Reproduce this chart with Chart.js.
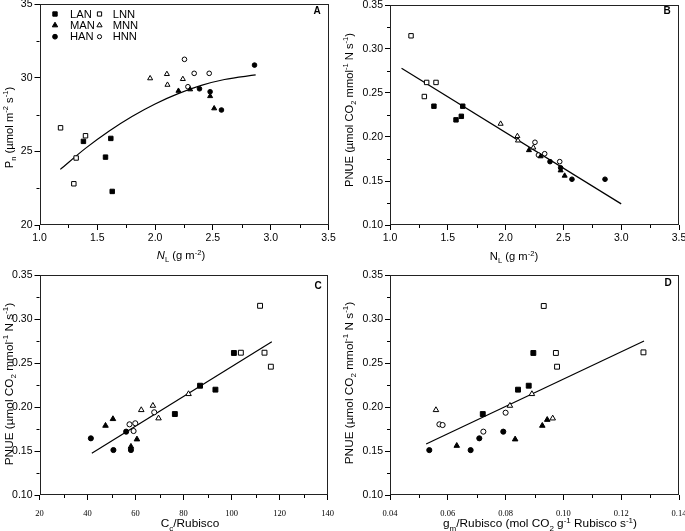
<!DOCTYPE html>
<html>
<head>
<meta charset="utf-8">
<script src="https://cdn.jsdelivr.net/npm/chart.js@4"></script>
<style>
  html, body { margin: 0; padding: 0; background: #fff; }
  canvas.p { position: absolute; left: 0; top: 0; width: 685px; height: 531px; }
</style>
</head>
<body>
<canvas id="cA" class="p" width="685" height="531"></canvas>
<canvas id="cB" class="p" width="685" height="531"></canvas>
<canvas id="cC" class="p" width="685" height="531"></canvas>
<canvas id="cD" class="p" width="685" height="531"></canvas>
<script>
// --- Data (group order follows `groups`) ---
const groups = ['LAN', 'LNN', 'MAN', 'MNN', 'HAN', 'HNN'];

// Panel A: N_L vs Pn
const nlA = [
    [1.380, 1.617, 1.571, 1.629],
    [1.182, 1.317, 1.398, 1.297],
    [2.202, 2.303, 2.476, 2.511],
    [1.957, 2.102, 2.107, 2.240],
    [2.384, 2.476, 2.574, 2.860],
    [2.254, 2.338, 2.468, 2.284]
];
const pnA = [
    [25.68, 25.88, 24.61, 22.28],
    [26.60, 24.55, 26.06, 22.80],
    [29.11, 29.21, 28.75, 27.92],
    [29.96, 30.25, 29.52, 29.91],
    [29.25, 29.05, 27.81, 30.86],
    [31.25, 30.30, 30.30, 29.39]
];
const fitAx = [1.18, 1.4, 1.6, 1.8, 2.0, 2.2, 2.4, 2.6, 2.87];
const fitAy = [23.78, 25.22, 26.37, 27.37, 28.22, 28.92, 29.48, 29.88, 30.19];

// Panel B: N_L vs PNUE
const nlB = [
    [1.380, 1.617, 1.571, 1.629],
    [1.182, 1.317, 1.398, 1.297],
    [2.202, 2.303, 2.476, 2.511],
    [1.957, 2.102, 2.107, 2.240],
    [2.384, 2.476, 2.574, 2.860],
    [2.254, 2.338, 2.468, 2.284]
];
const pnueB = [
    [0.235, 0.2235, 0.2195, 0.235],
    [0.315, 0.262, 0.262, 0.246],
    [0.185, 0.178, 0.162, 0.156],
    [0.215, 0.201, 0.196, 0.188],
    [0.172, 0.165, 0.152, 0.152],
    [0.194, 0.181, 0.172, 0.1795]
];
const fitBx = [1.1, 3.0];
const fitBy = [0.278, 0.124];

// Panel C: Cc/Rubisco vs PNUE
const ccC = [
    [101.0, 86.9, 93.3, 76.4],
    [111.9, 103.9, 113.75, 116.4],
    [50.6, 47.5, 60.6, 58.1],
    [82.1, 67.25, 62.4, 69.6],
    [41.4, 56.1, 50.8, 58.1],
    [67.8, 57.5, 59.9, 59.2]
];
const pnueC = [
    [0.2614, 0.2242, 0.2197, 0.192],
    [0.315, 0.2617, 0.2617, 0.2458],
    [0.1864, 0.1788, 0.1633, 0.155],
    [0.2148, 0.2015, 0.1966, 0.1872],
    [0.1644, 0.172, 0.1511, 0.1511],
    [0.194, 0.1803, 0.1815, 0.1727]
];
const fitCx = [41.8, 116.8];
const fitCy = [0.1474, 0.2742];

// Panel D: gm/Rubisco vs PNUE
const gmD = [
    [0.0896, 0.0880, 0.0843, 0.0721],
    [0.0932, 0.0974, 0.0978, 0.1277],
    [0.0631, 0.0833, 0.0927, 0.0944],
    [0.0559, 0.0815, 0.0891, 0.0963],
    [0.0536, 0.0679, 0.0709, 0.0792],
    [0.0571, 0.0582, 0.0800, 0.0723]
];
const pnueD = [
    [0.2614, 0.2242, 0.2197, 0.192],
    [0.3148, 0.2614, 0.2458, 0.2621],
    [0.156, 0.1633, 0.1788, 0.1855],
    [0.1966, 0.2015, 0.2148, 0.1871],
    [0.151, 0.151, 0.1644, 0.172],
    [0.1803, 0.1795, 0.1935, 0.172]
];
const fitDx = [0.0525, 0.1279];
const fitDy = [0.158, 0.275];

// --- Ticks ---
const nlTicks = [1.0, 1.5, 2.0, 2.5, 3.0, 3.5];
const nlLabels = ['1.0', '1.5', '2.0', '2.5', '3.0', '3.5'];
const pnTicks = [20, 25, 30, 35];
const pnLabels = ['20', '25', '30', '35'];
const pnueTicks = [0.10, 0.15, 0.20, 0.25, 0.30, 0.35];
const pnueLabels = ['0.10', '0.15', '0.20', '0.25', '0.30', '0.35'];
const ccTicks = [20, 40, 60, 80, 100, 120, 140];
const ccLabels = ['20', '40', '60', '80', '100', '120', '140'];
const gmTicks = [0.04, 0.06, 0.08, 0.10, 0.12, 0.14];
const gmLabels = ['0.04', '0.06', '0.08', '0.10', '0.12', '0.14'];

// --- Styles ---
const SANS = "'Liberation Sans', Arial, sans-serif";
const SERIF = "'Liberation Serif', 'Times New Roman', serif";
const markStyle = ['rect', 'rect', 'triangle', 'triangle', 'circle', 'circle'];
const markFilled = [true, false, true, false, true, false];

const pnueTitle = [['PNUE (\u00b5mol CO', 'n'], ['2', 'sub'], [' mmol', 'n'], ['-1', 'sup'], [' N s', 'n'], ['-1', 'sup'], [')', 'n']];

function drawRich(ctx, parts, cx, cy, size, vertical) {
    const fontOf = p => (p[1] === 'it' ? 'italic ' : '') +
        ((p[1] === 'sub' || p[1] === 'sup') ? size * 0.68 : size) + 'px ' + SANS;
    ctx.save();
    ctx.translate(cx, cy);
    if (vertical) ctx.rotate(-Math.PI / 2);
    let w = 0;
    parts.forEach(p => { ctx.font = fontOf(p); w += ctx.measureText(p[0]).width; });
    let x = -w / 2;
    const base = size * 0.36;
    ctx.fillStyle = '#000';
    ctx.textAlign = 'left';
    ctx.textBaseline = 'alphabetic';
    parts.forEach(p => {
        ctx.font = fontOf(p);
        const dy = p[1] === 'sub' ? size * 0.28 : (p[1] === 'sup' ? -size * 0.4 : 0);
        ctx.fillText(p[0], x, base + dy);
        x += ctx.measureText(p[0]).width;
    });
    ctx.restore();
}

function mark(ctx, style, filled, x, y, r) {
    ctx.beginPath();
    if (style === 'rect') {
        const s = r * Math.SQRT1_2;
        ctx.rect(x - s, y - s, 2 * s, 2 * s);
    } else if (style === 'triangle') {
        ctx.moveTo(x, y - r);
        ctx.lineTo(x + 0.866 * r, y + 0.5 * r);
        ctx.lineTo(x - 0.866 * r, y + 0.5 * r);
        ctx.closePath();
    } else {
        ctx.arc(x, y, r, 0, Math.PI * 2);
    }
    ctx.fillStyle = filled ? '#000' : '#fff';
    ctx.fill();
    ctx.lineWidth = 1;
    ctx.strokeStyle = '#000';
    ctx.stroke();
}

function makeDecor(cfg) {
    return {
        id: 'decor',
        afterDraw(chart) {
            const { ctx, chartArea: a, scales } = chart;
            ctx.save();
            // frame
            ctx.strokeStyle = '#222';
            ctx.lineWidth = 1;
            ctx.strokeRect(Math.round(a.left) + 0.5, Math.round(a.top) + 0.5,
                Math.round(a.right - a.left) - 1, Math.round(a.bottom - a.top) - 1);
            // minor ticks halfway between major ticks
            ctx.strokeStyle = '#000';
            ctx.beginPath();
            for (let i = 0; i < cfg.xTicks.length - 1; i++) {
                const px = Math.round(scales.x.getPixelForValue((cfg.xTicks[i] + cfg.xTicks[i + 1]) / 2)) + 0.5;
                ctx.moveTo(px, a.bottom);
                ctx.lineTo(px, a.bottom + 3);
            }
            for (let i = 0; i < cfg.yTicks.length - 1; i++) {
                const py = Math.round(scales.y.getPixelForValue((cfg.yTicks[i] + cfg.yTicks[i + 1]) / 2)) + 0.5;
                ctx.moveTo(a.left, py);
                ctx.lineTo(a.left - 3, py);
            }
            ctx.stroke();
            // panel letter
            ctx.fillStyle = '#000';
            ctx.font = 'bold 10px ' + SANS;
            ctx.textAlign = 'center';
            ctx.textBaseline = 'middle';
            ctx.fillText(cfg.letter[0], cfg.letter[1], cfg.letter[2]);
            // axis titles
            drawRich(ctx, cfg.xTitle[0], cfg.xTitle[1], cfg.xTitle[2], cfg.titleSize, false);
            drawRich(ctx, cfg.yTitle[0], cfg.yTitle[1], cfg.yTitle[2], cfg.titleSize, true);
            // legend
            if (cfg.legend) {
                const rows = [14, 25.3, 36.7];
                ctx.font = '11.2px ' + SANS;
                ctx.textAlign = 'left';
                ctx.textBaseline = 'middle';
                for (let r = 0; r < 3; r++) {
                    const gA = r * 2, gN = r * 2 + 1;
                    mark(ctx, markStyle[gA], true, 55, rows[r], markStyle[gA] === 'circle' ? 2.4 : 3.1);
                    ctx.fillStyle = '#000';
                    ctx.fillText(groups[gA], 70, rows[r] + 0.5);
                    mark(ctx, markStyle[gN], false, 99.5, rows[r], markStyle[gN] === 'circle' ? 2.1 : 3.0);
                    ctx.fillStyle = '#000';
                    ctx.fillText(groups[gN], 112.7, rows[r] + 0.5);
                }
            }
            ctx.restore();
        }
    };
}

function makeChart(id, cfg) {
    const datasets = groups.map((g, i) => ({
        label: g,
        data: cfg.xs[i].map((x, j) => ({ x: x, y: cfg.ys[i][j] })),
        pointStyle: markStyle[i],
        pointRadius: markStyle[i] === 'circle' ? cfg.r * 0.8 : (markStyle[i] === 'rect' ? cfg.r * 1.08 : cfg.r),
        pointHoverRadius: 3,
        backgroundColor: markFilled[i] ? '#000' : '#fff',
        borderColor: '#000',
        borderWidth: 1,
        showLine: false
    }));
    datasets.push({
        type: 'line',
        label: 'fit',
        data: cfg.fitX.map((x, j) => ({ x: x, y: cfg.fitY[j] })),
        borderColor: '#000',
        borderWidth: 1.2,
        pointRadius: 0,
        fill: false,
        cubicInterpolationMode: cfg.curve ? 'monotone' : 'default',
        tension: cfg.curve ? 0.4 : 0
    });

    const area = cfg.area;
    new Chart(document.getElementById(id), {
        type: 'scatter',
        data: { datasets: datasets },
        options: {
            responsive: false,
            animation: false,
            events: [],
            layout: {
                padding: { left: area.l - 30, right: 685 - area.r, top: area.t, bottom: 531 - area.b - 30 }
            },
            plugins: { legend: { display: false }, tooltip: { enabled: false } },
            scales: {
                x: {
                    type: 'linear',
                    min: cfg.xTicks[0],
                    max: cfg.xTicks[cfg.xTicks.length - 1],
                    afterBuildTicks: s => { s.ticks = cfg.xTicks.map(v => ({ value: v })); },
                    afterFit: s => { s.height = 30; s.paddingLeft = 0; s.paddingRight = 0; },
                    ticks: {
                        callback: (v, i) => cfg.xLabels[i],
                        font: cfg.xFont,
                        color: '#000',
                        padding: cfg.xPad,
                        maxRotation: 0,
                        autoSkip: false
                    },
                    grid: { drawOnChartArea: false, tickLength: 5, color: '#000', lineWidth: 1 },
                    border: { display: false }
                },
                y: {
                    type: 'linear',
                    min: cfg.yTicks[0],
                    max: cfg.yTicks[cfg.yTicks.length - 1],
                    afterBuildTicks: s => { s.ticks = cfg.yTicks.map(v => ({ value: v })); },
                    afterFit: s => { s.width = 30; s.paddingTop = 0; s.paddingBottom = 0; },
                    ticks: {
                        callback: (v, i) => cfg.yLabels[i],
                        font: { family: SANS, size: 10.5 },
                        color: '#000',
                        padding: 2,
                        autoSkip: false
                    },
                    grid: { drawOnChartArea: false, tickLength: 5, color: '#000', lineWidth: 1 },
                    border: { display: false }
                }
            }
        },
        plugins: [makeDecor(cfg)]
    });
}

makeChart('cA', {
    xs: nlA, ys: pnA, fitX: fitAx, fitY: fitAy, curve: true, r: 2.9,
    xTicks: nlTicks, xLabels: nlLabels, yTicks: pnTicks, yLabels: pnLabels,
    xFont: { family: SANS, size: 10.5 }, xPad: 2,
    area: { l: 39.5, r: 328.5, t: 4, b: 225 },
    letter: ['A', 317, 11],
    xTitle: [[['N', 'it'], ['L', 'sub'], [' (g m', 'n'], ['-2', 'sup'], [')', 'n']], 181, 255],
    yTitle: [[['P', 'n'], ['n', 'sub'], [' (\u00b5mol m', 'n'], ['-2', 'sup'], [' s', 'n'], ['-1', 'sup'], [')', 'n']], 8.5, 127.5],
    titleSize: 11.2, legend: true
});

makeChart('cB', {
    xs: nlB, ys: pnueB, fitX: fitBx, fitY: fitBy, curve: false, r: 2.9,
    xTicks: nlTicks, xLabels: nlLabels, yTicks: pnueTicks, yLabels: pnueLabels,
    xFont: { family: SANS, size: 10.5 }, xPad: 2,
    area: { l: 390, r: 679, t: 5, b: 225 },
    letter: ['B', 667, 11],
    xTitle: [[['N', 'n'], ['L', 'sub'], [' (g m', 'n'], ['-2', 'sup'], [')', 'n']], 514, 256],
    yTitle: [pnueTitle, 348.5, 110],
    titleSize: 11.2, legend: false
});

makeChart('cC', {
    xs: ccC, ys: pnueC, fitX: fitCx, fitY: fitCy, curve: false, r: 3.2,
    xTicks: ccTicks, xLabels: ccLabels, yTicks: pnueTicks, yLabels: pnueLabels,
    xFont: { family: SERIF, size: 8.5 }, xPad: 9,
    area: { l: 39.5, r: 327.5, t: 275, b: 495 },
    letter: ['C', 318, 286],
    xTitle: [[['C', 'n'], ['c', 'sub'], ['/Rubisco', 'n']], 190, 523],
    yTitle: [pnueTitle, 8.5, 384],
    titleSize: 11.8, legend: false
});

makeChart('cD', {
    xs: gmD, ys: pnueD, fitX: fitDx, fitY: fitDy, curve: false, r: 3.2,
    xTicks: gmTicks, xLabels: gmLabels, yTicks: pnueTicks, yLabels: pnueLabels,
    xFont: { family: SERIF, size: 8.5 }, xPad: 9,
    area: { l: 390, r: 679, t: 275, b: 495 },
    letter: ['D', 668, 283],
    xTitle: [[['g', 'n'], ['m', 'sub'], ['/Rubisco (mol CO', 'n'], ['2', 'sub'], [' g', 'n'], ['-1', 'sup'], [' Rubisco s', 'n'], ['-1', 'sup'], [')', 'n']], 540, 523],
    yTitle: [pnueTitle, 348.5, 383],
    titleSize: 11.8, legend: false
});
</script>
</body>
</html>
